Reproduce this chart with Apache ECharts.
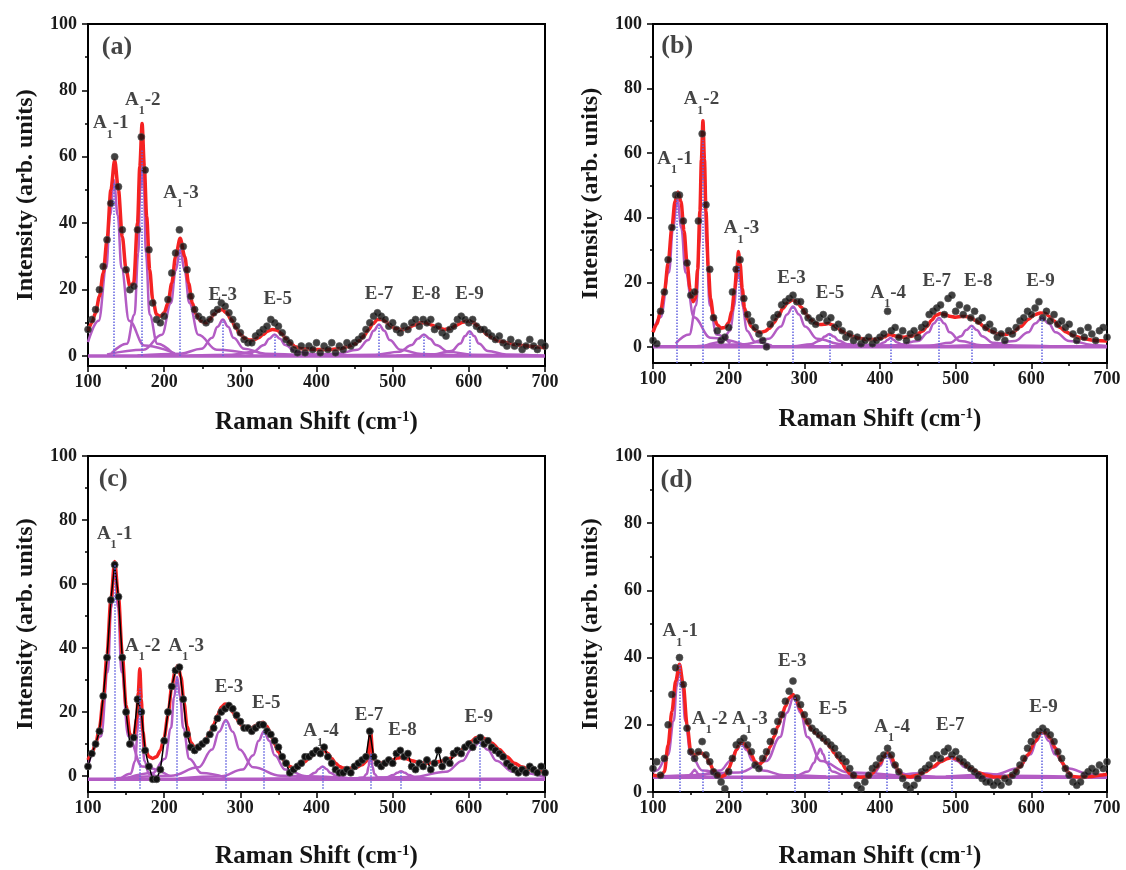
<!DOCTYPE html>
<html>
<head>
<meta charset="utf-8">
<script src="https://cdn.jsdelivr.net/npm/echarts@6/dist/echarts.min.js"></script>
<style>
html, body { margin: 0; padding: 0; background: #fff; }
#chart { width: 1126px; height: 870px; }
</style>
</head>
<body>
<div id="chart"></div>
<script>
// measured points: one value every 5 cm-1 from 100 to 700
const X0 = 100, DX = 5;

const dotsA = [
  8, 11, 14, 20, 27, 35, 46, 60, 51, 38,
  26, 20, 21, 38, 66, 56, 32, 16, 11, 10,
  12, 17, 25, 31, 38, 33, 26, 18, 14, 12,
  11, 10, 11, 13, 14, 16, 15, 13, 11, 9,
  7, 5, 4, 4, 6, 7, 8, 9, 11, 10,
  9, 7, 5, 4, 2, 1, 3, 1, 3, 2,
  4, 1, 3, 2, 4, 1, 3, 2, 4, 3,
  4, 5, 6, 8, 10, 12, 13, 12, 11, 9,
  10, 8, 7, 9, 8, 10, 11, 9, 11, 10,
  11, 8, 9, 7, 6, 8, 9, 11, 12, 11,
  10, 11, 9, 8, 8, 7, 6, 5, 6, 4,
  3, 5, 3, 4, 2, 3, 5, 3, 2, 4,
  3
];
const dotsB = [
  2, 1, 11, 17, 27, 37, 47, 47, 39, 26,
  16, 17, 39, 66, 44, 24, 9, 5, 2, 3,
  6, 17, 24, 27, 15, 10, 8, 6, 4, 2,
  0, 7, 9, 10, 13, 14, 15, 16, 14, 14,
  11, 9, 8, 7, 9, 10, 8, 9, 6, 7,
  5, 3, 4, 2, 3, 1, 2, 3, 1, 2,
  3, 4, 11, 5, 6, 3, 5, 2, 4, 5,
  3, 6, 7, 10, 11, 12, 13, 10, 15, 16,
  11, 13, 10, 12, 9, 11, 8, 9, 6, 7,
  5, 3, 4, 2, 5, 4, 6, 8, 9, 11,
  10, 12, 14, 9, 11, 8, 10, 7, 8, 6,
  7, 4, 2, 5, 3, 6, 4, 2, 5, 6,
  3
];
const dotsC = [
  3, 7, 10, 14, 25, 37, 55, 66, 56, 37,
  20, 10, 12, 24, 20, 8, 3, -1, -1, 2,
  11, 20, 28, 33, 34, 24, 13, 9, 8, 9,
  10, 11, 13, 15, 18, 20, 21, 22, 21, 19,
  17, 15, 15, 14, 15, 16, 16, 14, 13, 11,
  9, 6, 4, 1, 2, 3, 4, 6, 6, 7,
  8, 7, 9, 6, 4, 2, 1, 1, 2, 1,
  3, 4, 5, 6, 14, 6, 4, 3, 4, 5,
  4, 7, 8, 6, 7, 3, 2, 4, 3, 5,
  2, 4, 8, 3, 5, 4, 7, 8, 7, 9,
  10, 9, 11, 12, 10, 11, 9, 8, 7, 6,
  4, 3, 2, 1, 2, 1, 3, 2, 1, 3,
  1
];
const dotsD = [
  7, 9, 5, 10, 20, 29, 37, 40, 32, 19,
  12, 10, 12, 15, 11, 9, 6, 5, 3, 1,
  6, 10, 14, 15, 16, 14, 12, 8, 7, 10,
  12, 15, 18, 21, 23, 27, 30, 33, 28, 26,
  23, 21, 19, 18, 17, 16, 15, 14, 13, 11,
  10, 9, 7, 5, 2, 1, 3, 5, 7, 8,
  10, 11, 13, 11, 8, 6, 4, 2, 1, 2,
  4, 6, 7, 8, 10, 11, 10, 12, 13, 11,
  12, 10, 9, 8, 7, 6, 5, 4, 3, 3,
  2, 3, 2, 4, 3, 5, 6, 8, 10, 13,
  15, 17, 18, 19, 18, 17, 15, 12, 10, 7,
  5, 3, 2, 3, 5, 6, 7, 6, 8, 7,
  9
];

// cumulative fit (red)
const fitA = [[100,7.5],[105,10],[110,13],[115,18],[120,25],[125,35],[130,50],[135,59],[140,50],[145,36],[150,26],[155,21],[160,22],[165,40],[168,57],[171,70],[174,57],[177,42],[181,26],[185,17],[190,12.5],[195,12],[200,13],[205,16],[210,22],[215,30],[221,35.5],[227,30],[232,22],[237,16],[242,12.5],[248,10.5],[255,10],[260,11],[265,12.5],[270,13.5],[276,14],[282,13],[288,11],[294,8.5],[300,6.5],[306,5.3],[312,4.8],[318,4.9],[324,5.5],[330,6.5],[336,7.5],[342,8],[348,7.8],[354,6.8],[360,5.2],[366,3.8],[372,2.8],[380,2.2],[400,2],[420,2],[430,2.2],[440,2.8],[450,3.6],[456,4.6],[462,6],[468,7.8],[474,9.7],[480,11],[486,11],[492,10.2],[498,9],[505,8.2],[512,7.9],[520,8.4],[528,9.3],[536,10],[544,10],[552,9.3],[560,8.5],[568,8],[576,8.3],[584,9.3],[592,10.2],[600,10.6],[606,10],[612,9],[618,7.6],[625,6.2],[632,5.3],[640,4.5],[650,4],[660,3.5],[670,3.2],[685,2.8],[700,2.5]];
const fitB = [[100,4.5],[105,7],[110,11],[115,17],[120,26],[125,37],[129,45],[133,48],[137,45],[141,36],[145,26],[149,18],[153,14],[156,15],[159,24],[162,42],[164,58],[166,70],[168,58],[170,42],[173,25],[176,15],[180,9.5],[185,6.8],[190,5.8],[195,6],[200,7.5],[204,11],[208,18],[211,25],[213,29.5],[215,26],[218,18],[221,12],[225,8.5],[230,6.3],[236,5],[242,4.5],[248,4.8],[254,5.8],[260,7.5],[266,9.8],[272,12],[278,13.7],[284,14.5],[290,14],[296,12.3],[302,10.2],[308,8.5],[314,7.4],[320,6.9],[326,7],[332,7.2],[338,6.8],[344,5.8],[350,4.8],[356,4],[364,3.2],[372,2.7],[382,2.3],[392,2.3],[400,2.6],[406,3.1],[410,3.6],[414,3.9],[418,3.5],[424,3.1],[432,3],[440,3.2],[448,3.8],[456,4.8],[462,6.3],[468,8.2],[474,9.8],[480,10.3],[486,10],[492,9.5],[500,9.2],[508,9.4],[514,9.4],[520,9],[526,8.2],[532,7.2],[538,6.1],[546,4.9],[556,4],[566,3.8],[576,4.5],[586,6.3],[596,8.5],[604,9.9],[612,10.5],[618,10.4],[624,9.4],[630,8],[638,6],[646,4.6],[656,3.4],[668,2.6],[684,2],[700,1.8]];
const fitC = [[100,5],[105,7],[110,10],[115,15],[120,24],[125,38],[130,55],[135,67],[140,56],[145,38],[150,22],[155,13],[160,12],[164,18],[166,26],[168,33.5],[170,24],[172,14],[175,8.5],[180,6],[185,5.5],[190,6],[195,8],[200,12],[205,19],[210,28],[215,33.5],[218,34.5],[222,31],[226,23],[230,15.5],[235,10.5],[240,9],[245,9],[250,10],[255,11.5],[260,13.5],[265,16],[270,19],[275,21.5],[280,22.5],[285,22],[290,20],[295,18],[300,16.2],[305,15.2],[310,14.7],[315,15],[320,15.8],[325,16.5],[330,16.8],[335,15.5],[340,13],[345,10],[350,7.5],[355,5.5],[360,4],[365,3],[370,2.5],[375,2.8],[380,3.5],[385,4.5],[390,5.5],[395,6.5],[400,7.5],[405,8],[410,8],[415,7],[420,5.5],[425,4],[430,3],[435,2.5],[440,2.3],[450,2.5],[460,3.5],[465,4.5],[468,6.5],[471,14],[474,6.5],[478,4.5],[485,4],[492,4.3],[500,5],[506,5.6],[512,5.8],[518,5.4],[525,4.8],[535,4.2],[545,4],[555,4.2],[565,4.7],[575,5.5],[585,7],[595,9],[603,10.8],[610,12],[616,12.2],[622,11.6],[630,10.3],[640,8.3],[650,6],[660,4],[670,2.8],[680,2],[690,1.6],[700,1.3]];
const fitD = [[100,5],[110,4.8],[115,6],[120,14],[125,24],[130,33],[135,38],[140,32],[145,20],[150,12],[155,11],[160,11.5],[165,11.5],[170,10.5],[175,8.5],[180,6.5],[185,5],[190,4.5],[195,5],[200,7],[205,9.5],[210,12.5],[215,14.5],[220,14.5],[225,13],[230,11],[235,9],[240,8],[245,9],[250,11],[255,13.5],[260,16.5],[265,19.5],[270,22.5],[275,25.5],[280,28],[285,29],[290,27],[295,24.5],[300,22],[305,20],[310,18.5],[315,17.5],[320,16.5],[325,15.5],[330,14.5],[335,13],[340,11.5],[345,10],[350,8.5],[355,6.8],[360,5.5],[365,4.6],[375,4.4],[385,4.5],[390,5.5],[395,7],[400,8.5],[405,10.5],[410,11.8],[415,10.5],[420,8],[425,6],[430,4.8],[440,4.5],[450,5],[460,6],[470,7.5],[480,9],[490,10],[495,10.3],[500,10],[510,8.5],[520,7],[530,5.8],[540,5],[550,4.5],[565,4.4],[575,5],[585,7.5],[595,11],[605,15],[612,17.5],[618,17.7],[625,16],[632,13],[640,9],[648,6],[655,4.6],[665,4.4],[680,4.6],[690,5],[700,5.3]];

// single fitted peaks (magenta)
const compsA = [
  [[100,4.2],[114,10.6],[124,26.5],[129,42.4],[134,53],[139,42.4],[144,26.5],[154,10.6],[174,3.2],[214,0.8]],
  [[131,0.9],[151,3.7],[161,12.4],[166,31],[168.5,49.6],[171,62],[173.5,49.6],[176,31],[181,12.4],[191,3.7],[211,0.9]],
  [[125,0.5],[173,1.9],[197,6.4],[209,16],[215,25.6],[221,32],[227,25.6],[233,16],[245,6.4],[269,1.9],[317,0.5]],
  [[165,0.2],[221,0.7],[249,2.2],[263,5.5],[270,8.8],[277,11],[284,8.8],[291,5.5],[305,2.2],[333,0.7],[389,0.2]],
  [[233,0.1],[289,0.4],[317,1.3],[331,3.3],[338,5.2],[345,6.5],[352,5.2],[359,3.3],[373,1.3],[401,0.4],[457,0.1]],
  [[370,0.1],[426,0.6],[454,1.9],[468,4.8],[475,7.6],[482,9.5],[489,7.6],[496,4.8],[510,1.9],[538,0.6],[594,0.1]],
  [[413,0.1],[477,0.4],[509,1.3],[525,3.3],[533,5.2],[541,6.5],[549,5.2],[557,3.3],[573,1.3],[605,0.4],[669,0.1]],
  [[505,0.1],[553,0.5],[577,1.5],[589,3.8],[595,6],[601,7.5],[607,6],[613,3.8],[625,1.5],[649,0.5],[697,0.1]]
];
const compsB = [
  [[100,4.9],[110,9.2],[121,23],[126.5,36.8],[132,46],[137.5,36.8],[143,23],[154,9.2],[176,2.8],[220,0.7]],
  [[130,1],[148,3.8],[157,12.8],[161.5,32],[163.8,51.2],[166,64],[168.2,51.2],[170.5,32],[175,12.8],[184,3.8],[202,1]],
  [[169,0.4],[191,1.5],[202,5],[207.5,12.5],[210.3,20],[213,25],[215.7,20],[218.5,12.5],[224,5],[235,1.5],[257,0.4]],
  [[157,0.2],[221,0.8],[253,2.5],[269,6.3],[277,10],[285,12.5],[293,10],[301,6.3],[317,2.5],[349,0.8],[413,0.2]],
  [[237,0.1],[285,0.2],[309,0.8],[321,2],[327,3.2],[333,4],[339,3.2],[345,2],[357,0.8],[381,0.2],[429,0.1]],
  [[350,0],[382,0.2],[398,0.6],[406,1.4],[410,2.2],[414,2.8],[418,2.2],[422,1.4],[430,0.6],[446,0.2],[478,0]],
  [[366,0.1],[422,0.5],[450,1.8],[464,4.5],[471,7.2],[478,9],[485,7.2],[492,4.5],[506,1.8],[534,0.5],[590,0.1]],
  [[409,0.1],[465,0.4],[493,1.3],[507,3.3],[514,5.2],[521,6.5],[528,5.2],[535,3.3],[549,1.3],[577,0.4],[633,0.1]],
  [[470,0.1],[542,0.5],[578,1.8],[596,4.5],[605,7.2],[614,9],[623,7.2],[632,4.5],[650,1.8],[686,0.5],[700,0.3]]
];
const compsC = [
  [[100,3.2],[117,12.4],[126,32.5],[130.5,52.6],[135,66],[139.5,52.6],[144,32.5],[153,12.4],[171,3],[207,0]],
  [[144,-0.6],[156,0.7],[162,4.8],[165,13.5],[166.5,22.2],[168,28],[169.5,22.2],[171,13.5],[174,4.8],[180,0.7],[192,-0.6]],
  [[153,-0.5],[185,0.9],[201,5.4],[209,15],[213,24.6],[217,31],[221,24.6],[225,15],[233,5.4],[249,0.9],[281,-0.5]],
  [[137,-0.7],[209,0.1],[245,2.7],[263,8.3],[272,13.8],[281,17.5],[290,13.8],[299,8.3],[317,2.7],[353,0.1],[425,-0.7]],
  [[219,-0.8],[275,-0.1],[303,2],[317,6.5],[324,11],[331,14],[338,11],[345,6.5],[359,2],[387,-0.1],[443,-0.8]],
  [[328,-0.9],[368,-0.8],[388,-0.2],[398,1],[403,2.2],[408,3],[413,2.2],[418,1],[428,-0.2],[448,-0.8],[488,-0.9]],
  [[451,-0.9],[461,-0.5],[466,0.6],[468.5,3],[469.8,5.4],[471,7],[472.2,5.4],[473.5,3],[476,0.6],[481,-0.5],[491,-0.9]],
  [[431,-1],[471,-0.9],[491,-0.5],[501,0.3],[506,1],[511,1.5],[516,1],[521,0.3],[531,-0.5],[551,-0.9],[591,-1]],
  [[438,-0.8],[526,-0.3],[570,1.3],[592,4.8],[603,8.2],[614,10.5],[625,8.2],[636,4.8],[658,1.3],[700,-0.3]]
];
const compsD = [
  [[100,5.9],[105,6.4],[120,11.1],[127.5,21.2],[131.3,31.2],[135,37.9],[138.8,31.2],[142.5,21.2],[150,11.1],[165,6.4],[195,4.9]],
  [[123,4.4],[139,4.5],[147,4.8],[151,5.5],[153,6.2],[155,6.6],[157,6.2],[159,5.5],[163,4.8],[171,4.5],[187,4.4]],
  [[105,4.6],[161,5],[189,6.4],[203,9.4],[210,12.4],[217,14.4],[224,12.4],[231,9.4],[245,6.4],[273,5],[329,4.6]],
  [[142,4.8],[214,5.8],[250,9.2],[268,16.4],[277,23.6],[286,28.4],[295,23.6],[304,16.4],[322,9.2],[358,5.8],[430,4.8]],
  [[257,4.5],[289,4.9],[305,6.1],[313,8.7],[317,11.2],[321,12.9],[325,11.2],[329,8.7],[337,6.1],[353,4.9],[385,4.5]],
  [[345,4.5],[377,4.8],[393,5.8],[401,7.9],[405,10],[409,11.4],[413,10],[417,7.9],[425,5.8],[441,4.8],[473,4.5]],
  [[332,4.5],[412,4.8],[452,5.6],[472,7.4],[482,9.2],[492,10.4],[502,9.2],[512,7.4],[532,5.6],[572,4.8],[652,4.5]],
  [[487,4.6],[551,5.2],[583,7.1],[599,11.2],[607,15.2],[615,17.9],[623,15.2],[631,11.2],[647,7.1],[679,5.2],[700,4.9]]
];
const baseA = 0, baseB = 0, baseC = -1, baseD = 4.4;

// peak centres (blue dotted markers) and their heights
const peakXA = [134, 171, 221, 277, 345, 482, 541, 601];
const peakTopA = [52, 62, 32, 11, 6.5, 9.5, 6.5, 7.5];
const peakXB = [132, 166, 213, 285, 333, 414, 478, 521, 614];
const peakTopB = [46, 64, 25, 12.5, 4, 2.8, 9, 6.5, 9];
const peakXC = [135, 168, 217, 281, 331, 408, 471, 511, 614];
const peakTopC = [66, 28, 31, 17.5, 14, 3, 7, 1.5, 10.5];
const peakXD = [135, 166, 217, 287, 332, 409, 495, 614];
const peakTopD = [38, 6.5, 14.4, 28.4, 12, 11.4, 10.4, 17.9];

// peak names and where they sit
const namesA = ['(a)', 'A1-1', 'A1-2', 'A1-3', 'E-3', 'E-5', 'E-7', 'E-8', 'E-9'];
const nameXA = [138, 130, 172, 222, 277, 349, 482, 544, 601];
const nameYA = [93, 69, 76, 48, 17, 16, 17.5, 17.5, 17.5];
const namesB = ['(b)', 'A1-1', 'A1-2', 'A1-3', 'E-3', 'E-5', 'A1-4', 'E-7', 'E-8', 'E-9'];
const nameXB = [132, 129, 164, 217, 283, 334, 411, 475, 530, 612];
const nameYB = [93, 57, 75.5, 35.5, 20, 15.5, 15.5, 19, 19, 19];
const namesC = ['(c)', 'A1-1', 'A1-2', 'A1-3', 'E-3', 'E-5', 'A1-4', 'E-7', 'E-8', 'E-9'];
const nameXC = [133, 135, 172, 229, 285, 334, 406, 469, 513, 613];
const nameYC = [92.6, 74.5, 39.5, 39.5, 26.6, 21.4, 12.7, 17.8, 13.2, 17.3];
const namesD = ['(d)', 'A1-1', 'A1-2', 'A1-3', 'E-3', 'E-5', 'A1-4', 'E-7', 'E-9'];
const nameXD = [131, 136, 175, 228, 284, 338, 416, 493, 616];
const nameYD = [92.9, 46.7, 20.6, 20.6, 37.8, 23.6, 18.2, 18.7, 24.1];

const yTicks = [0, 20, 40, 60, 80, 100];
const yMinorTicks = [10, 30, 50, 70, 90];

const FONT = 'Liberation Serif';
const RED = '#f52222', MAGENTA = '#b35cc4', BLUE = '#6262e0', DOT = '#111';

const panels = [
  {dots: dotsA, fit: fitA, comps: compsA, base: baseA, peakX: peakXA, peakTop: peakTopA, floor: 0, names: namesA, nameX: nameXA, nameY: nameYA, yMin: -3, joined: false},
  {dots: dotsB, fit: fitB, comps: compsB, base: baseB, peakX: peakXB, peakTop: peakTopB, floor: -5, names: namesB, nameX: nameXB, nameY: nameYB, yMin: -5, joined: false},
  {dots: dotsC, fit: fitC, comps: compsC, base: baseC, peakX: peakXC, peakTop: peakTopC, floor: -4, names: namesC, nameX: nameXC, nameY: nameYC, yMin: -5, joined: true},
  {dots: dotsD, fit: fitD, comps: compsD, base: baseD, peakX: peakXD, peakTop: peakTopD, floor: 0, names: namesD, nameX: nameXD, nameY: nameYD, yMin: 0, joined: false}
];

const grids = [
  {left: 88, top: 24, width: 457, height: 342},
  {left: 653, top: 24, width: 454, height: 339},
  {left: 88, top: 456, width: 457, height: 340},
  {left: 653, top: 456, width: 454, height: 339}
];
const xNameGap = [44, 44, 52, 52];

function peakText(name) {
  if (name.charAt(0) === '(') return '{tag|' + name + '}';
  if (name.indexOf('A1') === 0) return '{t|A}{s|1}{t|' + name.slice(2) + '}';
  return '{t|' + name + '}';
}

const labelRich = {
  t: {fontFamily: FONT, fontSize: 19, fontWeight: 'bold', color: '#151515', lineHeight: 27, verticalAlign: 'top'},
  s: {fontFamily: FONT, fontSize: 12, fontWeight: 'bold', color: '#151515', lineHeight: 12, padding: [15, 0, 0, 0], verticalAlign: 'top'},
  tag: {fontFamily: FONT, fontSize: 26, fontWeight: 'bold', color: '#151515', lineHeight: 28}
};

const axisLabelStyle = {fontFamily: FONT, fontSize: 18, fontWeight: 'bold', color: '#1a1a1a'};
const blackLine = {color: '#000', width: 2};

const xAxis = [], yAxis = [], series = [];

panels.forEach(function (p, i) {
  xAxis.push({
    type: 'value', gridIndex: i, min: 100, max: 700, interval: 100,
    axisLine: {onZero: false, lineStyle: blackLine},
    axisTick: {length: 6, lineStyle: {color: '#000', width: 1.5}},
    minorTick: {show: true, splitNumber: 2, length: 3, lineStyle: {color: '#000', width: 1.5}},
    splitLine: {show: false},
    minorSplitLine: {show: false},
    axisLabel: Object.assign({margin: 7}, axisLabelStyle),
    name: '{t|Raman Shift (cm}{sup|-1}{t|)}',
    nameLocation: 'middle',
    nameGap: xNameGap[i],
    nameTextStyle: {
      rich: {
        t: {fontFamily: FONT, fontSize: 25, fontWeight: 'bold', color: '#151515'},
        sup: {fontFamily: FONT, fontSize: 15, fontWeight: 'bold', color: '#151515', lineHeight: 15, verticalAlign: 'top'}
      }
    }
  });
  yAxis.push({
    type: 'value', gridIndex: i, min: p.yMin, max: 100, position: 'left',
    axisLine: {onZero: false, lineStyle: blackLine},
    axisTick: {customValues: yTicks, length: 6, lineStyle: {color: '#000', width: 1.5}},
    axisLabel: Object.assign({customValues: yTicks, margin: 11}, axisLabelStyle),
    splitLine: {show: false},
    name: 'Intensity (arb. units)',
    nameLocation: 'middle',
    nameGap: 50,
    nameTextStyle: {fontFamily: FONT, fontSize: 24, fontWeight: 'bold', color: '#151515'}
  });
  yAxis.push({
    type: 'value', gridIndex: i, min: p.yMin, max: 100, position: 'left',
    axisLine: {show: false, onZero: false},
    axisTick: {customValues: yMinorTicks, length: 3, lineStyle: {color: '#000', width: 1.5}},
    axisLabel: {show: false},
    splitLine: {show: false}
  });

  const yi = 2 * i;

  // common baseline of the single peaks + dotted peak markers
  series.push({
    type: 'line', xAxisIndex: i, yAxisIndex: yi, silent: true, z: 2,
    data: [[100, p.base], [700, p.base]],
    symbol: 'none',
    lineStyle: {color: MAGENTA, width: 3.5},
    markLine: {
      silent: true, symbol: 'none', label: {show: false},
      lineStyle: {type: 'dotted', color: BLUE, width: 1.5},
      data: p.peakX.map(function (x, k) {
        return [{coord: [x, p.floor]}, {coord: [x, p.peakTop[k]]}];
      })
    }
  });

  p.comps.forEach(function (c) {
    series.push({
      type: 'line', xAxisIndex: i, yAxisIndex: yi, silent: true, z: 2,
      data: c, symbol: 'none', smooth: 0.4, smoothMonotone: 'x',
      lineStyle: {color: MAGENTA, width: 2.5}
    });
  });

  series.push({
    type: 'line', xAxisIndex: i, yAxisIndex: yi, silent: true, z: 3,
    data: p.fit, symbol: 'none', smooth: 0.3, smoothMonotone: 'x',
    lineStyle: {color: RED, width: 3.5}
  });

  const pts = p.dots.map(function (v, k) { return [X0 + k * DX, v]; });
  if (p.joined) {
    series.push({
      type: 'line', xAxisIndex: i, yAxisIndex: yi, silent: true, z: 4,
      data: pts, symbol: 'circle', symbolSize: 7, showSymbol: true, showAllSymbol: true,
      itemStyle: {color: DOT, borderColor: '#555', borderWidth: 0.8},
      lineStyle: {color: '#000', width: 1.5}
    });
  } else {
    series.push({
      type: 'scatter', xAxisIndex: i, yAxisIndex: yi, silent: true, z: 4,
      data: pts, symbolSize: 7,
      itemStyle: {color: DOT, borderColor: '#555', borderWidth: 0.8}
    });
  }

  series.push({
    type: 'scatter', xAxisIndex: i, yAxisIndex: yi, silent: true, z: 5,
    symbolSize: 1,
    itemStyle: {color: 'transparent'},
    data: p.names.map(function (n, k) { return {name: n, value: [p.nameX[k], p.nameY[k]]}; }),
    label: {
      show: true, position: 'inside',
      formatter: function (d) { return peakText(d.name); },
      rich: labelRich
    }
  });
});

const chart = echarts.init(document.getElementById('chart'));
chart.setOption({
  animation: false,
  backgroundColor: '#fff',
  textStyle: {fontFamily: FONT},
  grid: grids.map(function (g) {
    return Object.assign({show: true, borderColor: '#000', borderWidth: 2, backgroundColor: 'transparent'}, g);
  }),
  xAxis: xAxis,
  yAxis: yAxis,
  series: series
});
</script>
</body>
</html>
